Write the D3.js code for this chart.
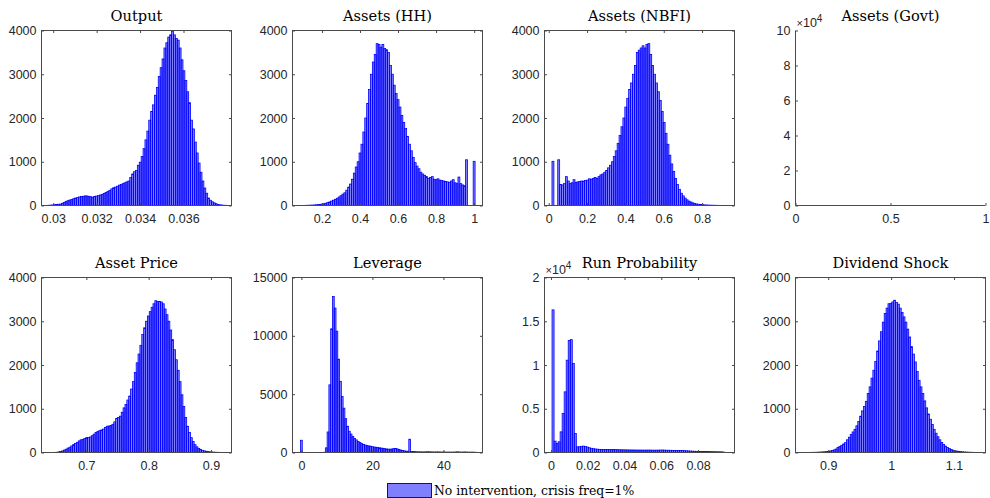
<!DOCTYPE html>
<html>
<head>
<meta charset="utf-8">
<script src="https://cdn.jsdelivr.net/npm/d3@7"></script>
<style>
  body { margin: 0; background: #fff; }
  svg { display: block; }
</style>
</head>
<body>
<div id="chart"></div>
<script>
var svgWidth = 990;
var svgHeight = 498;

// ---------- data (bin counts) ----------
var titles = ["Output", "Assets (HH)", "Assets (NBFI)", "Assets (Govt)",
              "Asset Price", "Leverage", "Run Probability", "Dividend Shock"];

// first bin edge and bin width for each histogram
var binStart = [0.0295, 0.045, 0.017, 0, 0.645, -0.25, 0.0006, 0.86];
var binWidth = [0.0000875, 0.01, 0.01, 0, 0.003, 0.5, 0.0011, 0.003];

var outputCounts = [0, 2, 3, 5, 8, 12, 18, 24, 28, 32,
  50, 70, 95, 110, 125, 140, 155, 170, 180, 195,
  205, 210, 220, 218, 210, 200, 190, 205, 215, 225,
  240, 255, 275, 295, 320, 345, 380, 405, 420, 440,
  465, 480, 500, 520, 540, 560, 640, 720, 770, 800,
  920, 990, 1120, 1300, 1500, 1700, 1950, 2150, 2300, 2520,
  2700, 2950, 3150, 3350, 3600, 3720, 3850, 3900, 3985, 3900,
  3820, 3780, 3600, 3330, 3080, 2860, 2600, 2350, 1950, 1750,
  1450, 1200, 970, 760, 560, 400, 280, 170, 120, 85,
  60, 40, 25, 15, 10, 6, 4, 2, 1, 0];

var assetsHHCounts = [0, 0, 1, 1, 2, 2, 3, 4, 5, 7, 9, 12, 16,
  20, 25, 32, 40, 52, 65, 80, 100, 120, 140,
  165, 195, 225, 260, 290, 350, 420, 490, 600, 740,
  880, 1000, 1200, 1400, 1680, 2000, 2330, 2650, 3000, 3280,
  3450, 3700, 3680, 3620, 3680, 3590, 3560, 3500, 3200, 3000,
  2750, 2560, 2420, 2250, 2060, 1900, 1760, 1580, 1400, 1250,
  1100, 980, 900, 840, 760, 720, 690, 660, 620, 640,
  660, 600, 590, 610, 580, 570, 560, 550, 540, 530,
  560, 590, 520, 500, 650, 500, 470, 450, 1045, 0,
  0, 0, 1010];

var assetsNBFICounts = [1010, 0, 0, 1045, 480, 470, 500, 660, 560, 500,
  520, 590, 530, 540, 550, 560, 555, 570, 580, 610,
  600, 620, 640, 620, 660, 700, 720, 760, 800, 860,
  920, 1000, 1120, 1250, 1420, 1600, 1800, 2000, 2250, 2450,
  2650, 2800, 3000, 3200, 3500, 3550, 3600, 3650, 3600, 3680,
  3700, 3450, 3200, 3000, 2800, 2600, 2400, 2150, 1900, 1650,
  1400, 1150, 950, 780, 620, 480, 370, 280, 220, 170,
  130, 100, 80, 60, 45, 35, 28, 22, 18, 14,
  11, 9, 7, 6, 5, 4, 3, 3, 2, 2,
  2, 1, 1, 1];

var assetsGovtCounts = [];

var assetPriceCounts = [2, 3, 5, 12, 25, 35, 55, 75, 100, 120,
  150, 180, 205, 230, 265, 290, 300, 320, 340, 345,
  355, 385, 420, 455, 480, 500, 515, 535, 570, 600,
  605, 620, 645, 700, 780, 800, 830, 920, 1020, 1100,
  1200, 1290, 1450, 1620, 1830, 2050, 2250, 2450, 2700, 2850,
  3000, 3120, 3220, 3320, 3400, 3470, 3450, 3450, 3440, 3400,
  3280, 3150, 3000, 2800, 2580, 2350, 2120, 1880, 1620, 1320,
  1050, 800, 600, 460, 340, 250, 180, 130, 95, 70,
  50, 38, 28, 20, 14, 10, 8, 6, 4, 3,
  2, 1];

var leverageCounts = [1050, 0, 0, 0, 0, 0, 0, 0, 0, 0,
  0, 0, 0, 20, 400, 1760, 5800, 10600, 13380, 12380,
  10400, 8000, 6100, 4800, 3800, 2900, 2250, 1820, 1580, 1380,
  1200, 1080, 950, 860, 760, 700, 640, 600, 560, 540,
  500, 470, 450, 430, 400, 380, 360, 330, 300, 290,
  280, 300, 330, 340, 310, 250, 210, 170, 140, 120,
  100, 1140, 90, 80, 70, 60, 55, 50, 50, 45,
  50, 60, 55, 50, 45, 40, 45, 50, 40, 35,
  40, 35, 30, 35, 30, 30, 35, 40, 55, 40,
  30, 35, 45, 35, 30, 25, 30, 25, 20];

var runProbCounts = [16300, 1300, 1030, 1220, 2360, 4460, 6930, 10550, 12800, 12900,
  10170, 2170, 650, 650, 700, 730, 690, 620, 540, 480,
  440, 400, 380, 360, 350, 345, 340, 335, 330, 340,
  345, 330, 320, 310, 305, 300, 295, 290, 285, 285,
  280, 275, 270, 275, 270, 265, 270, 275, 270, 265,
  260, 265, 270, 275, 280, 270, 260, 255, 250, 245,
  240, 235, 240, 230, 220, 210, 195, 180, 165, 150,
  140, 130, 125, 120, 115, 110, 105, 100, 95, 90,
  85, 80, 75, 70, 60];

var dividendCounts = [1, 1, 2, 2, 3, 4, 5, 6, 8, 10,
  13, 16, 20, 25, 35, 45, 60, 80, 115, 140,
  165, 195, 225, 290, 350, 410, 470, 530, 610, 710,
  830, 950, 1050, 1170, 1350, 1500, 1700, 1880, 2080, 2320,
  2550, 2760, 2980, 3180, 3300, 3400, 3410, 3440, 3480, 3430,
  3390, 3300, 3200, 3100, 2980, 2820, 2640, 2420, 2250, 2070,
  1850, 1650, 1500, 1350, 1180, 1020, 880, 760, 640, 530,
  440, 360, 290, 230, 185, 145, 115, 90, 68, 52,
  40, 32, 26, 20, 15, 12, 9, 7, 5, 4,
  3, 2, 1];

var allCounts = [outputCounts, assetsHHCounts, assetsNBFICounts, assetsGovtCounts,
                 assetPriceCounts, leverageCounts, runProbCounts, dividendCounts];

var xLimits = [[0.02946, 0.03821], [0.045, 1.044], [-0.022, 0.969], [0, 1],
               [0.628, 0.933], [-2.5, 51], [-0.0035, 0.0998], [0.848, 1.15]];
var yLimits = [[0, 4000], [0, 4000], [0, 4000], [0, 100000],
               [0, 4000], [0, 15000], [0, 20000], [0, 4000]];

var xTickValues = [[0.03, 0.032, 0.034, 0.036], [0.2, 0.4, 0.6, 0.8, 1], [0, 0.2, 0.4, 0.6, 0.8], [0, 0.5, 1],
                   [0.7, 0.8, 0.9], [0, 20, 40], [0, 0.02, 0.04, 0.06, 0.08], [0.9, 1, 1.1]];
var yTickValues = [[0, 1000, 2000, 3000, 4000], [0, 1000, 2000, 3000, 4000], [0, 1000, 2000, 3000, 4000],
                   [0, 20000, 40000, 60000, 80000, 100000],
                   [0, 1000, 2000, 3000, 4000], [0, 5000, 10000, 15000],
                   [0, 5000, 10000, 15000, 20000], [0, 1000, 2000, 3000, 4000]];
var yExponent = [0, 0, 0, 4, 0, 0, 4, 0];

var legendLabel = "No intervention, crisis freq=1%";

// ---------- layout ----------
var colLeft = [41.5, 292.5, 544.5, 795.5];
var rowTop = [30.5, 277.5];
var axW = 190;
var axH = 175;
var tickLen = 2.5;
var axisColor = "#4a4a4a";
var labelColor = "#262626";

var svg = d3.select("#chart")
  .append("svg")
  .attr("width", svgWidth)
  .attr("height", svgHeight);

function niceNum(v) {
  return String(+v.toFixed(6));
}

function styleTicks(sel) {
  sel.select(".domain").remove();
  sel.selectAll(".tick line").attr("stroke", axisColor);
  sel.selectAll(".tick text")
    .attr("fill", labelColor)
    .attr("font-family", "'Liberation Sans', Arial, sans-serif")
    .attr("font-size", 12.5);
}

function drawPanel(k) {
  var left = colLeft[k % 4];
  var top = rowTop[Math.floor(k / 4)];
  var counts = allCounts[k];
  var hasBox = counts.length > 0;

  var x = d3.scaleLinear().domain(xLimits[k]).range([left, left + axW]);
  var y = d3.scaleLinear().domain(yLimits[k]).range([top + axH, top]);

  var g = svg.append("g");

  // bars
  var bins = counts.map(function(c, i) {
    return { x0: binStart[k] + i * binWidth[k], x1: binStart[k] + (i + 1) * binWidth[k], n: c };
  }).filter(function(d) { return d.n > 0; });

  g.append("g")
    .selectAll("rect")
    .data(bins)
    .enter()
    .append("rect")
    .attr("x", function(d) { return x(d.x0); })
    .attr("width", function(d) { return x(d.x1) - x(d.x0); })
    .attr("y", function(d) { return y(d.n); })
    .attr("height", function(d) { return y(0) - y(d.n); })
    .attr("fill", "rgba(0,0,255,0.5)")
    .attr("stroke", "#0000ff")
    .attr("stroke-width", 0.8);

  var scale = Math.pow(10, yExponent[k]);
  var yFmt = function(d) { return niceNum(d / scale); };

  var yAxis = d3.axisLeft(y).tickValues(yTickValues[k]).tickSize(-tickLen).tickSizeOuter(0)
    .tickPadding(5).tickFormat(yFmt);
  var xAxis = d3.axisBottom(x).tickValues(xTickValues[k]).tickSize(-tickLen).tickSizeOuter(0)
    .tickPadding(9).tickFormat(niceNum);

  g.append("g").attr("transform", "translate(" + left + ",0)").call(yAxis).call(styleTicks);
  g.append("g").attr("transform", "translate(0," + (top + axH) + ")").call(xAxis).call(styleTicks);

  if (hasBox) {
    // mirrored ticks on top and right
    g.append("g").attr("transform", "translate(" + (left + axW) + ",0)")
      .call(d3.axisRight(y).tickValues(yTickValues[k]).tickSize(-tickLen).tickSizeOuter(0).tickFormat(""))
      .call(styleTicks);
    g.append("g").attr("transform", "translate(0," + top + ")")
      .call(d3.axisTop(x).tickValues(xTickValues[k]).tickSize(-tickLen).tickSizeOuter(0).tickFormat(""))
      .call(styleTicks);
    g.append("rect")
      .attr("x", left).attr("y", top)
      .attr("width", axW).attr("height", axH)
      .attr("fill", "none")
      .attr("stroke", axisColor)
      .attr("stroke-width", 1);
  } else {
    g.append("path")
      .attr("d", "M" + left + "," + top + "V" + (top + axH) + "H" + (left + axW))
      .attr("fill", "none")
      .attr("stroke", axisColor)
      .attr("stroke-width", 1);
  }

  // exponent label
  if (yExponent[k] > 0) {
    var ex = g.append("text")
      .attr("x", left + 1)
      .attr("y", top - 3.5)
      .attr("fill", labelColor)
      .attr("font-family", "'Liberation Sans', Arial, sans-serif")
      .attr("font-size", 12.5);
    ex.append("tspan").attr("font-size", 11).text("\u00d7");
    ex.append("tspan").text("10");
    ex.append("tspan").attr("font-size", 10).attr("dy", -5).text(yExponent[k]);
  }

  // title
  g.append("text")
    .attr("x", left + axW / 2)
    .attr("y", top - 10)
    .attr("text-anchor", "middle")
    .attr("fill", "#000")
    .attr("font-family", "'DejaVu Serif', serif")
    .attr("font-size", 14.6)
    .text(titles[k]);
}

for (var k = 0; k < titles.length; k++) {
  drawPanel(k);
}

// legend
var legend = svg.append("g");
legend.append("rect")
  .attr("x", 387.5).attr("y", 483.5)
  .attr("width", 44).attr("height", 14)
  .attr("fill", "#8080ff")
  .attr("stroke", "#0000ff")
  .attr("stroke-width", 1);
legend.append("text")
  .attr("x", 434)
  .attr("y", 494.5)
  .attr("fill", "#000")
  .attr("font-family", "'DejaVu Serif', serif")
  .attr("font-size", 12.4)
  .text(legendLabel);
</script>
</body>
</html>
